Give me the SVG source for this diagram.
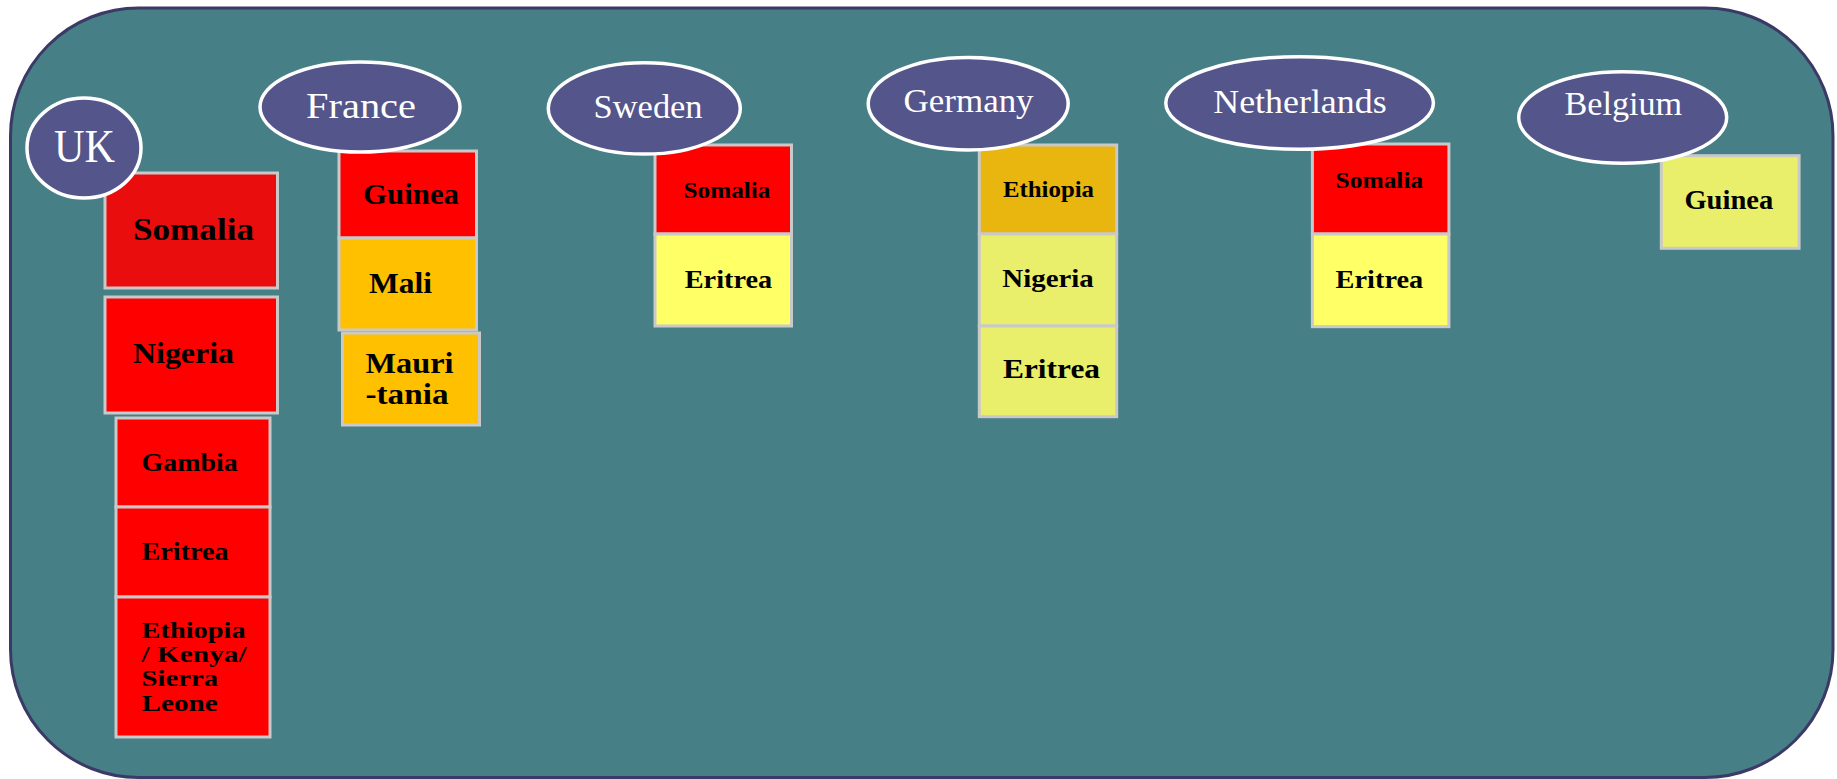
<svg xmlns="http://www.w3.org/2000/svg" width="1837" height="779" viewBox="0 0 1837 779">
<style>
.bg{fill:#467f86;stroke:#3b3a66;stroke-width:3}
.ctry{fill:#54558a;stroke:#ffffff;stroke-width:3.5}
.ctxt{font-family:"Liberation Serif",serif;fill:#ffffff;font-size:34px}
.box{stroke:#c9c9c9;stroke-width:3}
.btxt{font-family:"Liberation Serif",serif;font-weight:bold;fill:#000000}
.red{fill:#ff0000}
.dred{fill:#e90d0d}
.amb{fill:#ffc000}
.yel{fill:#ffff66}
.gold{fill:#e9b60f}
.lyel{fill:#e9ef6a}
</style>
<rect class="bg" x="10.5" y="8" width="1822.5" height="769.5" rx="128" ry="128"/>
<g id="connectors"></g>

<g id="uk-boxes">
<g id="uk-somalia"><rect class="box dred" x="105" y="173" width="172.5" height="115"/><text class="btxt" x="133" y="240" font-size="32" textLength="121" lengthAdjust="spacingAndGlyphs">Somalia</text></g>
<g id="uk-nigeria"><rect class="box red" x="105" y="297" width="172.5" height="116"/><text class="btxt" x="133" y="363" font-size="30" textLength="101" lengthAdjust="spacingAndGlyphs">Nigeria</text></g>
<g id="uk-gambia"><rect class="box red" x="116" y="418" width="154" height="89"/><text class="btxt" x="141.6" y="471" font-size="26" textLength="96" lengthAdjust="spacingAndGlyphs">Gambia</text></g>
<g id="uk-eritrea"><rect class="box red" x="116" y="507" width="154" height="90"/><text class="btxt" x="141.6" y="560" font-size="25" textLength="87" lengthAdjust="spacingAndGlyphs">Eritrea</text></g>
<g id="uk-ethiopia"><rect class="box red" x="116" y="597" width="154" height="140"/><text class="btxt" font-size="24"><tspan x="141.6" y="638" textLength="104" lengthAdjust="spacingAndGlyphs">Ethiopia</tspan><tspan x="141.6" y="662" textLength="105" lengthAdjust="spacingAndGlyphs">/ Kenya/</tspan><tspan x="141.6" y="686" textLength="76.5" lengthAdjust="spacingAndGlyphs">Sierra</tspan><tspan x="141.6" y="711" textLength="76" lengthAdjust="spacingAndGlyphs">Leone</tspan></text></g>
</g>

<g id="france-boxes">
<g id="fr-guinea"><rect class="box red" x="339" y="151" width="137.5" height="87"/><text class="btxt" x="363" y="204" font-size="29" textLength="96" lengthAdjust="spacingAndGlyphs">Guinea</text></g>
<g id="fr-mali"><rect class="box amb" x="339" y="238" width="137.5" height="92"/><text class="btxt" x="369" y="293" font-size="29" textLength="63" lengthAdjust="spacingAndGlyphs">Mali</text></g>
<g id="fr-mauritania"><rect class="box amb" x="342.5" y="333" width="137" height="92"/><text class="btxt" font-size="29"><tspan x="365.5" y="373" textLength="88" lengthAdjust="spacingAndGlyphs">Mauri</tspan><tspan x="365.5" y="404" textLength="83" lengthAdjust="spacingAndGlyphs">-tania</tspan></text></g>
</g>

<g id="sweden-boxes">
<g id="se-somalia"><rect class="box red" x="655" y="145" width="136.5" height="89"/><text class="btxt" x="683.5" y="198.3" font-size="23.5" textLength="87" lengthAdjust="spacingAndGlyphs">Somalia</text></g>
<g id="se-eritrea"><rect class="box yel" x="655" y="234" width="136.5" height="92"/><text class="btxt" x="684.7" y="288" font-size="25" textLength="87.6" lengthAdjust="spacingAndGlyphs">Eritrea</text></g>
</g>

<g id="germany-boxes">
<g id="de-ethiopia"><rect class="box gold" x="979.3" y="145" width="137.4" height="89"/><text class="btxt" x="1003" y="196.7" font-size="22.7" textLength="91" lengthAdjust="spacingAndGlyphs">Ethiopia</text></g>
<g id="de-nigeria"><rect class="box lyel" x="979.3" y="234" width="137.4" height="92"/><text class="btxt" x="1002.3" y="287.3" font-size="26" textLength="91.5" lengthAdjust="spacingAndGlyphs">Nigeria</text></g>
<g id="de-eritrea"><rect class="box lyel" x="979.3" y="326" width="137.4" height="90.7"/><text class="btxt" x="1003" y="378.3" font-size="27.7" textLength="97" lengthAdjust="spacingAndGlyphs">Eritrea</text></g>
</g>

<g id="netherlands-boxes">
<g id="nl-somalia"><rect class="box red" x="1312.4" y="144" width="136.5" height="90"/><text class="btxt" x="1335.6" y="187.7" font-size="22.7" textLength="87.6" lengthAdjust="spacingAndGlyphs">Somalia</text></g>
<g id="nl-eritrea"><rect class="box yel" x="1312.4" y="234" width="136.5" height="92.7"/><text class="btxt" x="1335.6" y="288.3" font-size="26" textLength="87.6" lengthAdjust="spacingAndGlyphs">Eritrea</text></g>
</g>

<g id="belgium-boxes">
<g id="be-guinea"><rect class="box lyel" x="1661.3" y="155.7" width="137.8" height="92.6"/><text class="btxt" x="1684.4" y="209.3" font-size="26.7" textLength="88.9" lengthAdjust="spacingAndGlyphs">Guinea</text></g>
</g>

<g id="uk"><ellipse class="ctry" cx="84" cy="148" rx="57" ry="50"/><text class="ctxt" x="54" y="162" style="font-size:47px" textLength="61" lengthAdjust="spacingAndGlyphs">UK</text></g>
<g id="france"><ellipse class="ctry" cx="360" cy="107" rx="100" ry="45"/><text class="ctxt" x="306" y="118" style="font-size:36px" textLength="110" lengthAdjust="spacingAndGlyphs">France</text></g>
<g id="sweden"><ellipse class="ctry" cx="644.3" cy="108.4" rx="96" ry="45.7"/><text class="ctxt" x="593.6" y="118" textLength="109" lengthAdjust="spacingAndGlyphs">Sweden</text></g>
<g id="germany"><ellipse class="ctry" cx="968.2" cy="103.7" rx="100" ry="46.3"/><text class="ctxt" x="903.6" y="111.7" textLength="130" lengthAdjust="spacingAndGlyphs">Germany</text></g>
<g id="netherlands"><ellipse class="ctry" cx="1299.6" cy="103" rx="133.8" ry="46.3"/><text class="ctxt" x="1213.3" y="112.7" style="font-size:33px" textLength="173.3" lengthAdjust="spacingAndGlyphs">Netherlands</text></g>
<g id="belgium"><ellipse class="ctry" cx="1622.7" cy="117.5" rx="104" ry="45.8"/><text class="ctxt" x="1564.4" y="115" textLength="117.8" lengthAdjust="spacingAndGlyphs">Belgium</text></g>
</svg>
